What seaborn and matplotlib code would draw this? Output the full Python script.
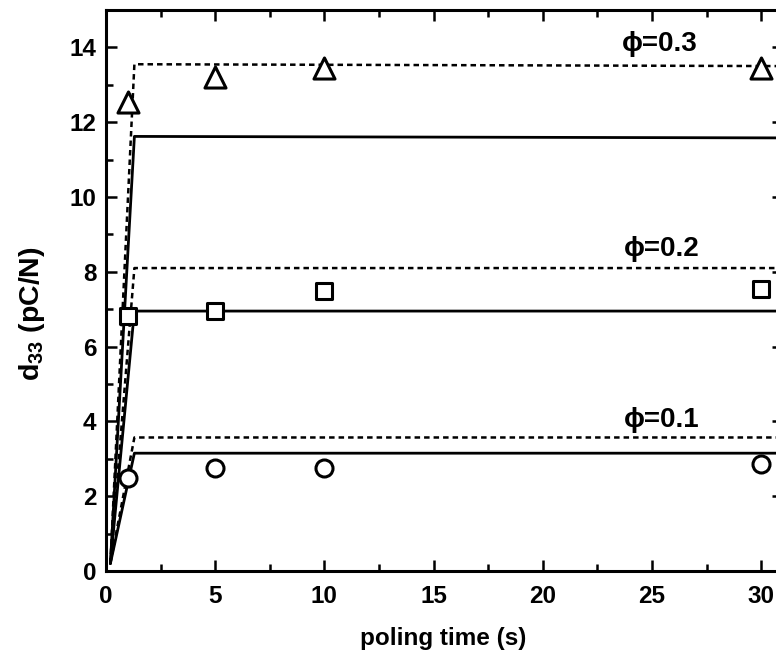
import numpy as np
import pandas as pd
import matplotlib
matplotlib.use("Agg")
import matplotlib.pyplot as plt
from matplotlib.ticker import MultipleLocator
import seaborn as sns

# measured d33 after poling
poling_time = [1, 5, 10, 30]
d33_phi01 = [2.5, 2.75, 2.75, 2.85]
d33_phi02 = [6.82, 6.95, 7.5, 7.55]
d33_phi03 = [12.55, 13.2, 13.45, 13.45]
phi_labels = ["ϕ=0.1", "ϕ=0.2", "ϕ=0.3"]

# model curves (rise then plateau)
model_t = [0.2, 1.3, 31]
model_solid = {"ϕ=0.1": [0.2, 3.15, 3.15],
               "ϕ=0.2": [0.2, 6.95, 6.95],
               "ϕ=0.3": [0.2, 11.62, 11.58]}
model_dashed = {"ϕ=0.1": [0.2, 3.57, 3.57],
                "ϕ=0.2": [0.2, 8.1, 8.1],
                "ϕ=0.3": [0.2, 13.55, 13.5]}
label_pos = {"ϕ=0.1": (23.7, 4.05), "ϕ=0.2": (23.7, 8.6), "ϕ=0.3": (23.6, 14.1)}

sns.set_theme(style="ticks")
plt.rcParams["font.family"] = ["Liberation Sans", "DejaVu Sans"]
plt.rcParams["font.weight"] = "bold"
plt.rcParams["axes.labelweight"] = "bold"
plt.rcParams["text.color"] = "black"
plt.rcParams["axes.labelcolor"] = "black"
plt.rcParams["mathtext.fontset"] = "custom"
plt.rcParams["mathtext.rm"] = "Liberation Sans:bold"
plt.rcParams["mathtext.bf"] = "Liberation Sans:bold"
plt.rcParams["mathtext.default"] = "bf"

meas = pd.DataFrame({
    "t": poling_time * 3,
    "d33": d33_phi01 + d33_phi02 + d33_phi03,
    "phi": sum([[p] * len(poling_time) for p in phi_labels], []),
})
model_rows = []
for p in phi_labels:
    for t, s, d in zip(model_t, model_solid[p], model_dashed[p]):
        model_rows.append({"t": t, "d33": s, "phi": p, "kind": "solid"})
        model_rows.append({"t": t, "d33": d, "phi": p, "kind": "dashed"})
model = pd.DataFrame(model_rows)

fig = plt.figure(figsize=(7.76, 6.66), dpi=100)
ax = fig.add_axes([106 / 776, 95 / 666, 677 / 776, 561 / 666])

for p in phi_labels:
    sub = model[model.phi == p]
    sns.lineplot(data=sub[sub.kind == "solid"], x="t", y="d33", ax=ax,
                 color="black", lw=2.0, estimator=None, sort=False)
    sns.lineplot(data=sub[sub.kind == "dashed"], x="t", y="d33", ax=ax,
                 color="black", lw=1.8, estimator=None, sort=False,
                 linestyle=(0, (2.2, 1.6)))

markers = {"ϕ=0.1": "o", "ϕ=0.2": "s", "ϕ=0.3": "^"}
sizes = {"ϕ=0.1": 150, "ϕ=0.2": 130, "ϕ=0.3": 230}
for p in phi_labels:
    sns.scatterplot(data=meas[meas.phi == p], x="t", y="d33", ax=ax,
                    marker=markers[p], s=sizes[p], facecolor="white",
                    edgecolor="black", linewidth=2.2, zorder=5, clip_on=False)

for p in phi_labels:
    x, y = label_pos[p]
    ax.text(x, y, p, fontsize=20, va="center", ha="left", color="black")

ax.set_xlim(0, 31)
ax.set_ylim(0, 15)
ax.xaxis.set_major_locator(MultipleLocator(5))
ax.xaxis.set_minor_locator(MultipleLocator(2.5))
ax.yaxis.set_major_locator(MultipleLocator(2))
ax.yaxis.set_minor_locator(MultipleLocator(1))
ax.tick_params(which="both", direction="in", top=True, right=True,
               width=1.8, colors="black", labelsize=17.5)
ax.tick_params(axis="x", pad=10)
ax.tick_params(axis="y", pad=7)
ax.tick_params(which="major", length=8)
ax.tick_params(which="minor", length=5)
for s in ax.spines.values():
    s.set_linewidth(2.2)
    s.set_color("black")

ax.set_xlabel("poling time (s)", fontsize=17.5, fontweight="bold", color="black")
ax.xaxis.set_label_coords((443 - 106) / 677, -(627 - 571) / 561)
ax.set_ylabel("d$_{33}$ (pC/N)", fontsize=20.5, fontweight="bold", color="black")
ax.yaxis.set_label_coords(-(106 - 47) / 677, (571 - 314) / 561)
if ax.get_legend():
    ax.get_legend().remove()

fig.savefig("out.png", dpi=100)
